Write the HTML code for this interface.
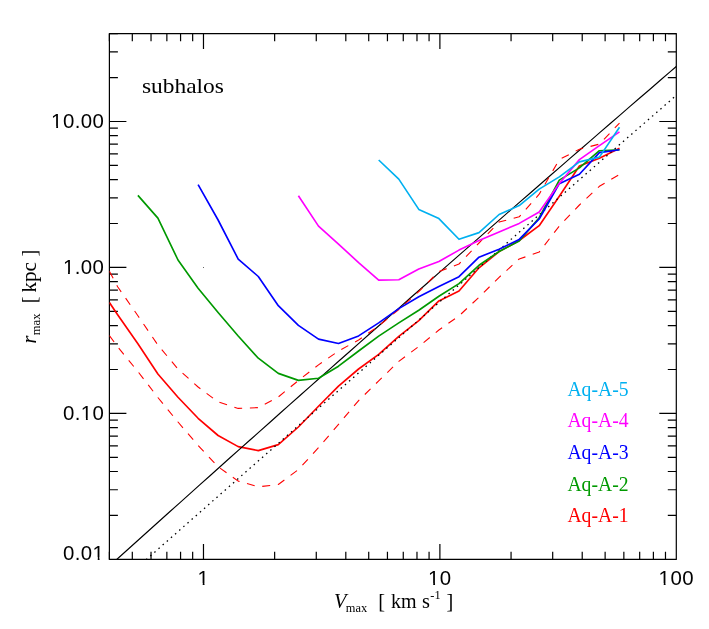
<!DOCTYPE html>
<html><head><meta charset="utf-8"><title>subhalos rmax vs Vmax</title>
<style>
html,body{margin:0;padding:0;background:#fff;}
body{width:709px;height:629px;overflow:hidden;font-family:"Liberation Sans",sans-serif;}
svg{display:block;will-change:transform;}
.sans{font-family:"Liberation Sans",sans-serif;font-size:20.4px;fill:#000;letter-spacing:0.45px;}
.serif{font-family:"Liberation Serif",serif;font-size:20.4px;}
.it{font-style:italic;}
</style></head><body>
<svg width="709" height="629" viewBox="0 0 709 629">
<defs><clipPath id="c"><rect x="109.4" y="33.6" width="566.9" height="525.8"/></clipPath></defs>

<g stroke="#000" stroke-width="1.2" fill="none" stroke-linecap="butt">
<rect x="109.4" y="33.6" width="566.9" height="525.8" stroke-linejoin="round"/>
<path d="M109.40,559.4v-7.6M109.40,33.6v7.6M132.31,559.4v-7.6M132.31,33.6v7.6M151.03,559.4v-7.6M151.03,33.6v7.6M166.86,559.4v-7.6M166.86,33.6v7.6M180.57,559.4v-7.6M180.57,33.6v7.6M192.66,559.4v-7.6M192.66,33.6v7.6M203.48,559.4v-15.4M203.48,33.6v15.4M274.64,559.4v-7.6M274.64,33.6v7.6M316.27,559.4v-7.6M316.27,33.6v7.6M345.81,559.4v-7.6M345.81,33.6v7.6M368.72,559.4v-7.6M368.72,33.6v7.6M387.44,559.4v-7.6M387.44,33.6v7.6M403.27,559.4v-7.6M403.27,33.6v7.6M416.98,559.4v-7.6M416.98,33.6v7.6M429.07,559.4v-7.6M429.07,33.6v7.6M439.89,559.4v-15.4M439.89,33.6v15.4M511.06,559.4v-7.6M511.06,33.6v7.6M552.69,559.4v-7.6M552.69,33.6v7.6M582.22,559.4v-7.6M582.22,33.6v7.6M605.13,559.4v-7.6M605.13,33.6v7.6M623.85,559.4v-7.6M623.85,33.6v7.6M639.68,559.4v-7.6M639.68,33.6v7.6M653.39,559.4v-7.6M653.39,33.6v7.6M665.48,559.4v-7.6M665.48,33.6v7.6M109.4,515.46h8.5M676.3,515.46h-8.5M109.4,489.75h8.5M676.3,489.75h-8.5M109.4,471.52h8.5M676.3,471.52h-8.5M109.4,457.37h8.5M676.3,457.37h-8.5M109.4,445.81h8.5M676.3,445.81h-8.5M109.4,436.04h8.5M676.3,436.04h-8.5M109.4,427.57h8.5M676.3,427.57h-8.5M109.4,420.11h8.5M676.3,420.11h-8.5M109.4,413.43h17M676.3,413.43h-17M109.4,369.49h8.5M676.3,369.49h-8.5M109.4,343.78h8.5M676.3,343.78h-8.5M109.4,325.54h8.5M676.3,325.54h-8.5M109.4,311.40h8.5M676.3,311.40h-8.5M109.4,299.84h8.5M676.3,299.84h-8.5M109.4,290.07h8.5M676.3,290.07h-8.5M109.4,281.60h8.5M676.3,281.60h-8.5M109.4,274.14h8.5M676.3,274.14h-8.5M109.4,267.46h17M676.3,267.46h-17M109.4,223.51h8.5M676.3,223.51h-8.5M109.4,197.81h8.5M676.3,197.81h-8.5M109.4,179.57h8.5M676.3,179.57h-8.5M109.4,165.43h8.5M676.3,165.43h-8.5M109.4,153.87h8.5M676.3,153.87h-8.5M109.4,144.10h8.5M676.3,144.10h-8.5M109.4,135.63h8.5M676.3,135.63h-8.5M109.4,128.16h8.5M676.3,128.16h-8.5M109.4,121.48h17M676.3,121.48h-17M109.4,77.54h8.5M676.3,77.54h-8.5M109.4,51.84h8.5M676.3,51.84h-8.5M109.4,33.60h8.5M676.3,33.60h-8.5"/>
</g>
<g clip-path="url(#c)" fill="none" stroke-linejoin="round">
<polyline points="109.4,302.5 117.8,315.0 137.9,343.7 157.9,374.0 178.0,397.2 198.1,418.3 218.1,435.5 238.2,446.6 258.3,450.6 278.3,444.6 298.4,427.0 318.5,406.3 338.5,386.2 358.6,369.0 378.7,354.4 398.8,336.4 418.8,320.7 438.9,300.9 459.0,291.0 479.0,267.8 499.1,251.6 519.2,240.5 539.2,225.7 559.3,196.2 579.4,166.0 599.4,158.3 619.5,148.2" stroke="#ff0000" stroke-width="1.65"/>
<polyline points="100.0,574.5 110.0,565.5 120.0,556.5 130.0,547.5 140.0,538.5 150.0,529.5 160.0,520.5 170.0,511.5 180.0,502.6 190.0,493.6 200.0,484.6 210.0,475.7 220.0,466.8 230.0,457.8 240.0,448.9 250.0,440.0 260.0,431.1 270.0,422.2 280.0,413.3 290.0,404.4 300.0,395.5 310.0,386.6 320.0,377.8 330.0,368.9 340.0,360.0 350.0,351.2 360.0,342.4 370.0,333.5 380.0,324.7 390.0,315.9 400.0,307.1 410.0,298.3 420.0,289.5 430.0,280.7 440.0,271.9 450.0,263.1 460.0,254.4 470.0,245.6 480.0,236.9 490.0,228.1 500.0,219.4 510.0,210.6 520.0,201.9 530.0,193.2 540.0,184.5 550.0,175.8 560.0,167.1 570.0,158.4 580.0,149.7 590.0,141.1 600.0,132.4 610.0,123.7 620.0,115.1 630.0,106.4 640.0,97.8 650.0,89.2 660.0,80.5 670.0,71.9 680.0,63.3 690.0,54.7" stroke="#000" stroke-width="1.15"/>
<polyline points="100.0,600.3 110.0,591.5 120.0,582.7 130.0,573.9 140.0,565.1 150.0,556.3 160.0,547.4 170.0,538.6 180.0,529.8 190.0,521.0 200.0,512.2 210.0,503.4 220.0,494.6 230.0,485.8 240.0,477.0 250.0,468.2 260.0,459.5 270.0,450.7 280.0,441.9 290.0,433.1 300.0,424.3 310.0,415.5 320.0,406.8 330.0,398.0 340.0,389.2 350.0,380.4 360.0,371.7 370.0,362.9 380.0,354.1 390.0,345.4 400.0,336.6 410.0,327.8 420.0,319.1 430.0,310.3 440.0,301.6 450.0,292.8 460.0,284.1 470.0,275.3 480.0,266.6 490.0,257.8 500.0,249.1 510.0,240.3 520.0,231.6 530.0,222.9 540.0,214.1 550.0,205.4 560.0,196.7 570.0,187.9 580.0,179.2 590.0,170.5 600.0,161.8 610.0,153.0 620.0,144.3 630.0,135.6 640.0,126.9 650.0,118.2 660.0,109.5 670.0,100.8 680.0,92.1 690.0,83.4" stroke="#000" stroke-width="1.3" stroke-dasharray="1.5 4.014" stroke-dashoffset="-0.8" stroke-linecap="butt"/>
<polyline points="109.4,271.3 117.8,287.0 137.9,315.7 157.9,345.0 178.0,369.0 198.1,387.0 218.1,401.9 238.2,408.4 258.3,407.6 278.3,397.0 298.4,380.5 318.5,364.9 338.5,351.0 358.6,340.0 378.7,326.0 398.8,309.5 418.8,291.5 438.9,271.5 459.0,264.0 479.0,243.0 499.1,222.0 519.2,216.8 539.2,194.2 559.3,159.6 579.4,149.2 599.4,144.1 619.5,123.1" stroke="#ff0000" stroke-width="1.1" stroke-dasharray="8 7.72" stroke-dashoffset="0"/>
<polyline points="109.4,335.5 117.8,347.0 137.9,371.5 157.9,397.5 178.0,422.0 198.1,445.4 218.1,466.8 238.2,481.1 258.3,486.8 278.3,484.5 298.4,469.6 318.5,447.7 338.5,424.4 358.6,400.6 378.7,380.9 398.8,361.4 418.8,346.5 438.9,330.0 459.0,315.9 479.0,297.2 499.1,277.3 519.2,259.0 539.2,252.1 559.3,226.0 579.4,205.0 599.4,186.3 619.5,174.5" stroke="#ff0000" stroke-width="1.1" stroke-dasharray="8 7.72" stroke-dashoffset="0"/>
<polyline points="137.9,195.4 157.9,218.1 178.0,260.0 198.1,288.2 218.1,312.5 238.2,336.0 258.3,358.2 278.3,373.4 298.4,380.4 318.5,378.2 338.5,366.2 358.6,351.0 378.7,336.1 398.8,322.9 418.8,310.2 438.9,296.3 459.0,283.6 479.0,265.3 499.1,251.5 519.2,241.0 539.2,217.7 559.3,180.1 579.4,167.9 599.4,150.7 619.5,149.7" stroke="#009900" stroke-width="1.65"/>
<polyline points="198.1,184.7 218.1,220.0 238.2,259.1 258.3,276.5 278.3,305.7 298.4,325.4 318.5,339.1 338.5,343.5 358.6,335.9 378.7,322.9 398.8,308.6 418.8,296.7 438.9,286.4 459.0,276.7 479.0,257.2 499.1,249.2 519.2,239.4 539.2,219.0 559.3,183.7 579.4,174.2 599.4,152.6 619.5,149.7" stroke="#0000ff" stroke-width="1.65"/>
<polyline points="298.4,195.8 318.5,226.1 338.5,244.1 358.6,262.6 378.7,280.1 398.8,279.7 418.8,269.1 438.9,261.5 459.0,250.1 479.0,240.5 499.1,232.0 519.2,223.4 539.2,212.0 559.3,183.5 579.4,159.6 599.4,145.6 619.5,131.9" stroke="#ff00ff" stroke-width="1.65"/>
<polyline points="378.7,160.0 398.8,179.1 418.8,209.4 438.9,218.6 459.0,239.3 479.0,232.6 499.1,214.5 519.2,205.6 539.2,189.1 559.3,176.9 579.4,161.9 599.4,157.1 619.5,127.2" stroke="#00b0f0" stroke-width="1.65"/>
</g>
<rect x="203.0" y="267.0" width="1" height="1" fill="#666"/>
<text class="sans" x="104.40" y="128.4" text-anchor="end">10.00</text>
<text class="sans" x="104.40" y="274.4" text-anchor="end">1.00</text>
<text class="sans" x="104.40" y="420.3" text-anchor="end">0.10</text>
<text class="sans" x="104.40" y="559.6" text-anchor="end">0.01</text>
<text class="sans" x="203.48" y="585.4" text-anchor="middle">1</text>
<text class="sans" x="439.89" y="585.4" text-anchor="middle">10</text>
<text class="sans" x="676.30" y="585.4" text-anchor="middle">100</text>
<path d="M52.00,126.08H56.23V129.28H52.00zM58.03,126.08H62.20V129.28H58.03z" fill="#fff"/>
<path d="M63.80,272.06H68.03V275.26H63.80zM69.83,272.06H74.00V275.26H69.83z" fill="#fff"/>
<path d="M81.71,418.03H85.94V421.23H81.71zM87.74,418.03H91.91V421.23H87.74z" fill="#fff"/>
<path d="M93.50,557.30H97.73V560.50H93.50zM99.54,557.30H103.70V560.50H99.54z" fill="#fff"/>
<path d="M198.48,583.10H202.71V586.30H198.48zM204.51,583.10H208.68V586.30H204.51z" fill="#fff"/>
<path d="M428.99,583.10H433.22V586.30H428.99zM435.03,583.10H439.19V586.30H435.03z" fill="#fff"/>
<path d="M659.51,583.10H663.74V586.30H659.51zM665.54,583.10H669.71V586.30H665.54z" fill="#fff"/>
<text class="serif" x="141.9" y="93.3" textLength="82" lengthAdjust="spacingAndGlyphs" fill="#000">subhalos</text>
<text class="serif" x="567.4" y="395.9" textLength="61.2" lengthAdjust="spacingAndGlyphs" fill="#00b0f0">Aq-A-5</text>
<text class="serif" x="567.4" y="427.4" textLength="61.2" lengthAdjust="spacingAndGlyphs" fill="#ff00ff">Aq-A-4</text>
<text class="serif" x="567.4" y="458.9" textLength="61.2" lengthAdjust="spacingAndGlyphs" fill="#0000ff">Aq-A-3</text>
<text class="serif" x="567.4" y="490.5" textLength="61.2" lengthAdjust="spacingAndGlyphs" fill="#009900">Aq-A-2</text>
<text class="serif" x="567.4" y="522.0" textLength="61.2" lengthAdjust="spacingAndGlyphs" fill="#ff0000">Aq-A-1</text>
<g transform="translate(0,608)"><text class="serif it" x="334.0" y="0" fill="#000">V</text><text class="serif" x="345.8" y="4.2" style="font-size:12.4px" fill="#000">max</text><text class="serif" x="378.3" y="0" fill="#000">[</text><text class="serif" x="391.0" y="0" textLength="25.6" lengthAdjust="spacingAndGlyphs" fill="#000">km</text><text class="serif" x="422.1" y="0" fill="#000">s</text><text class="serif" x="430.3" y="-9.3" style="font-size:12.4px" fill="#000">-1</text><text class="serif" x="446.5" y="0" fill="#000">]</text></g>
<g transform="translate(35.8,343.5) rotate(-90)"><text class="serif it" x="0" y="0" fill="#000">r</text><text class="serif" x="8.3" y="4.6" style="font-size:12.6px" fill="#000">max</text><text class="serif" x="40.3" y="0" fill="#000">[</text><text class="serif" x="51.0" y="0" textLength="30.5" lengthAdjust="spacingAndGlyphs" fill="#000">kpc</text><text class="serif" x="87.0" y="0" fill="#000">]</text></g>
</svg></body></html>
